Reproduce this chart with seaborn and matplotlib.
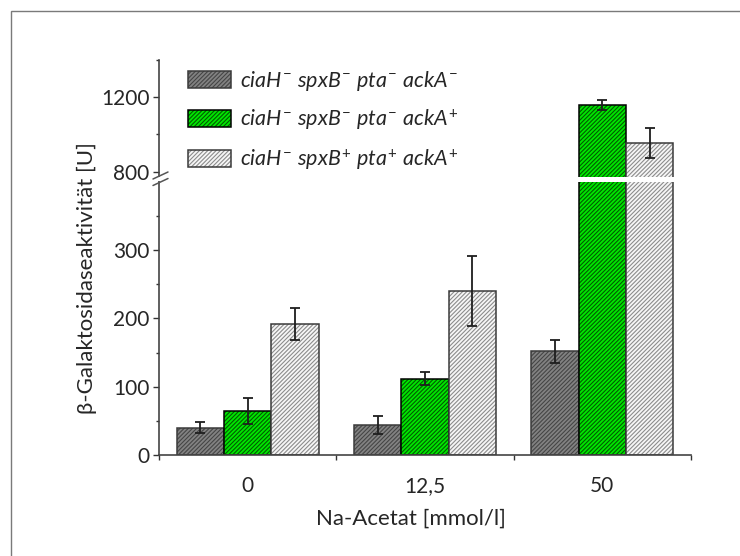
import numpy as np
import pandas as pd
import matplotlib
matplotlib.use("Agg")
import matplotlib.pyplot as plt
import matplotlib.colors as mcolors
from matplotlib.patches import Rectangle
import seaborn as sns

# ---- data ----
concentrations = ["0", "12,5", "50"]
strains = [r"$ciaH^{-}\ spxB^{-}\ pta^{-}\ ackA^{-}$",
           r"$ciaH^{-}\ spxB^{-}\ pta^{-}\ ackA^{+}$",
           r"$ciaH^{-}\ spxB^{+}\ pta^{+}\ ackA^{+}$"]
dark_vals = [40, 44, 152]
dark_err = [8, 13, 17]
green_vals = [64, 112, 1155]
green_err = [19, 10, 27]
light_vals = [192, 240, 957]
light_err = [24, 51, 80]
y_major = [0, 100, 200, 300, 800, 1200]
y_minor = [50, 150, 250, 350, 1000, 1400]

values = [dark_vals, green_vals, light_vals]
errors = [dark_err, green_err, light_err]

df = pd.DataFrame({
    "conc": concentrations * 3,
    "strain": [s for s in strains for _ in concentrations],
    "val": dark_vals + green_vals + light_vals,
})

# ---- style ----
sns.set_style("ticks")
plt.rcParams["font.family"] = ["Lato", "DejaVu Sans"]
plt.rcParams["mathtext.fontset"] = "custom"
plt.rcParams["mathtext.rm"] = "Lato"
plt.rcParams["mathtext.it"] = "Lato:italic"
plt.rcParams["mathtext.bf"] = "Lato:bold"
plt.rcParams["hatch.linewidth"] = 0.8

W, H = 740, 556
fig = plt.figure(figsize=(W / 100, H / 100), dpi=100)
ax_l, ax_r, ax_b, ax_t = 159, 691, 455, 59.5
ax = fig.add_axes([ax_l / W, 1 - ax_b / H, (ax_r - ax_l) / W, (ax_b - ax_t) / H])

# figure frame (top and left lines visible)
fig.add_artist(Rectangle((10.5 / W, -0.1), 1.2, 1 - 10.5 / H + 0.1,
                         transform=fig.transFigure, fill=False,
                         edgecolor="#7a7a7a", lw=1.0))

face_cols = ["#828282", "#00e600", "#f6f6f6"]
hatch_cols = ["#454545", "#005a00", "#8c8c8c"]
edge_cols = ["#3a3a3a", "#000000", "#3a3a3a"]

sns.barplot(data=df, x="conc", y="val", hue="strain", order=concentrations,
            hue_order=strains, errorbar=None, width=0.8, ax=ax, legend=False)
bar_conts = list(ax.containers)

# broken y scale
LOW, HIGH, GAP, K = 400.0, 800.0, 14.6, 0.2745


def fwd(y):
    y = np.asarray(y, dtype=float)
    return np.where(y <= LOW, y,
                    np.where(y >= HIGH, LOW + GAP + (y - HIGH) * K,
                             LOW + (y - LOW) / (HIGH - LOW) * GAP))


def inv(t):
    t = np.asarray(t, dtype=float)
    return np.where(t <= LOW, t,
                    np.where(t >= LOW + GAP, HIGH + (t - LOW - GAP) / K,
                             LOW + (t - LOW) / GAP * (HIGH - LOW)))


ax.set_yscale("function", functions=(fwd, inv))
ax.set_ylim(0, 1400)
ax.set_xlim(-0.5, 2.5)

for i, cont in enumerate(bar_conts):
    xs = []
    for bar in cont:
        bar.set_facecolor(face_cols[i])
        bar.set_edgecolor(edge_cols[i])
        bar.set_linewidth(1.1)
        bar.set_hatch("////////")
        bar._hatch_color = mcolors.to_rgba(hatch_cols[i])
        bar.set_zorder(2)
        xs.append(bar.get_x() + bar.get_width() / 2)
    ax.errorbar(xs, values[i], yerr=errors[i], fmt="none", ecolor="#1e1e1e",
                elinewidth=1.3, capsize=3.5, capthick=1.3, zorder=4)

# white stripe through tall bars at the break
ax.axhspan(400, 610, xmin=0.004, xmax=1, color="white", lw=0, zorder=3)

# ticks
ax.set_yticks(y_major)
ax.set_yticklabels([str(v) for v in y_major])
ax.set_yticks(y_minor, minor=True)
ax.set_xticks([0, 1, 2])
ax.set_xticklabels(concentrations)
ax.set_xticks([-0.5, 0.5, 1.5, 2.5], minor=True)
ax.tick_params(axis="y", which="major", length=4, width=1, color="#333333",
               labelsize=15, pad=3)
ax.tick_params(axis="y", which="minor", length=2.2, width=1, color="#333333")
ax.tick_params(axis="x", which="major", length=0, labelsize=15, pad=15)
ax.tick_params(axis="x", which="minor", length=3.5, width=1, color="#333333")

for s in ["top", "right"]:
    ax.spines[s].set_visible(False)
for s in ["left", "bottom"]:
    ax.spines[s].set_color("#444444")
    ax.spines[s].set_linewidth(1.2)

ax.set_xlabel("Na-Acetat [mmol/l]", fontsize=16)
ax.set_ylabel("β-Galaktosidaseaktivität [U]", fontsize=16)
ax.xaxis.label.set_va("center")
ax.xaxis.set_label_coords((410.5 - ax_l) / (ax_r - ax_l), (ax_b - 519) / (ax_b - ax_t))
ax.yaxis.label.set_va("center")
ax.yaxis.set_label_coords((87 - ax_l) / (ax_r - ax_l), (ax_b - 278) / (ax_b - ax_t))

# axis break marks
axw, axh = ax_r - ax_l, ax_b - ax_t
y1 = (ax_b - 182) / axh
y2 = (ax_b - 175.5) / axh
ax.add_patch(Rectangle((-4 / axw, y1 + 1.5 / axh), 8 / axw, (y2 - y1) - 3 / axh,
                       transform=ax.transAxes, color="white", lw=0,
                       clip_on=False, zorder=5))
for yc in (y1, y2):
    ax.plot([-6 / axw, 9 / axw], [yc - 3.5 / axh, yc + 3.5 / axh],
            transform=ax.transAxes, color="#555555", lw=1.1,
            clip_on=False, zorder=6)

# legend
leg = ax.legend(bar_conts, strains, loc="upper left",
                bbox_to_anchor=(188 / W, 1 - 69 / H),
                bbox_transform=fig.transFigure, frameon=False, fontsize=15.5,
                handlelength=2.0, handleheight=0.84, handletextpad=0.4,
                labelspacing=0.68, borderpad=0, borderaxespad=0)

fig.savefig("out.png", dpi=100)
